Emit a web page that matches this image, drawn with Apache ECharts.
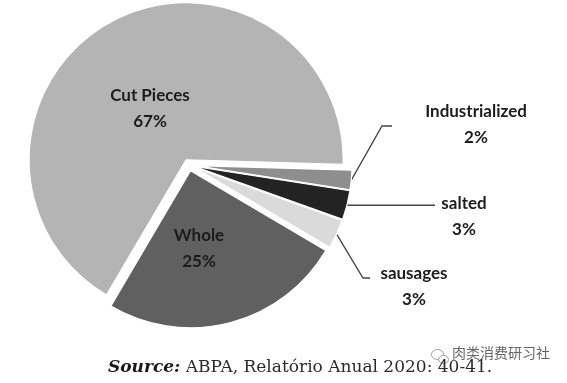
<!DOCTYPE html>
<html>
<head>
<meta charset="utf-8">
<script src="https://cdn.jsdelivr.net/npm/echarts@6/dist/echarts.min.js"></script>
<style>
html,body{margin:0;padding:0;background:#fff;}
#chart{width:567px;height:383px;}
</style>
</head>
<body>
<div id="chart"></div>
<script>
// ---- data ----
const categories = ['Cut Pieces', 'Industrialized', 'salted', 'sausages', 'Whole'];
const shares = [67, 2, 3, 3, 25];
const sliceColors = ['#b4b4b4', '#8e8e8e', '#232323', '#dadada', '#606060'];
const sourceLabel = 'Source:';
const sourceText = ' ABPA, Relatório Anual 2020: 40-41.';
const watermarkText = '肉类消费研习社';

// ---- layout ----
const baseCenter = [189, 165];
const pieRadius = 157;
const explode = 6;
const startAngle = 239.5;
// label anchors (block centres) and leader-line points (null y = keep start y)
const labelSpots = [
  { x: 150, y: 109 },
  { x: 476, y: 125, line: [[382, 126], [392, 126]] },
  { x: 464, y: 217, line: [[435, null]] },
  { x: 414, y: 287, line: [[363, 278], [370, 278]] },
  { x: 199, y: 249 }
];

const total = shares.reduce((a, b) => a + b, 0);
let cum = 0;
const mids = shares.map(v => {
  const m = startAngle - (cum + v / 2) / total * 360;
  cum += v;
  return m;
});

const series = categories.map((name, i) => {
  const rad = mids[i] * Math.PI / 180;
  const c = [baseCenter[0] + explode * Math.cos(rad), baseCenter[1] - explode * Math.sin(rad)];
  const spot = labelSpots[i];
  const outside = !!spot.line;
  return {
    type: 'pie',
    center: c,
    radius: pieRadius,
    startAngle: startAngle,
    clockwise: true,
    avoidLabelOverlap: false,
    silent: true,
    animation: false,
    emphasis: { disabled: true },
    label: { show: false },
    labelLine: { show: false },
    data: categories.map((n, j) => {
      if (j !== i) {
        return { name: n, value: shares[j], itemStyle: { color: 'rgba(0,0,0,0)', borderWidth: 0 }, label: { show: false }, labelLine: { show: false } };
      }
      return {
        name: n,
        value: shares[j],
        itemStyle: { color: sliceColors[j], borderColor: '#ffffff', borderWidth: 1.2 },
        label: {
          show: true,
          position: outside ? 'outside' : 'inside',
          formatter: '{b}\n{c}%',
          fontFamily: 'Lato',
          fontWeight: 'bold',
          fontSize: 17,
          lineHeight: 26,
          color: '#1c1c1c',
          align: 'center'
        },
        labelLine: outside ? { show: true, length: 10, length2: 10, lineStyle: { color: '#444', width: 1.3 } } : { show: false }
      };
    }),
    labelLayout: function (params) {
      if (params.dataIndex !== i) return {};
      const res = { x: spot.x, y: spot.y, align: 'center', verticalAlign: 'middle' };
      if (outside) {
        let p0;
        if (params.labelLinePoints && params.labelLinePoints[0]) {
          p0 = params.labelLinePoints[0];
        } else {
          p0 = [c[0] + pieRadius * Math.cos(rad), c[1] - pieRadius * Math.sin(rad)];
        }
        res.labelLinePoints = [p0].concat(spot.line.map(p => [p[0], p[1] == null ? p0[1] : p[1]]));
      }
      return res;
    }
  };
});

const chart = echarts.init(document.getElementById('chart'), null, { renderer: 'canvas' });
chart.setOption({
  backgroundColor: '#ffffff',
  animation: false,
  series: series,
  graphic: [
    {
      type: 'text',
      left: 452,
      top: 346,
      style: {
        text: watermarkText,
        fontFamily: 'Noto Sans CJK SC',
        fontSize: 14,
        fill: '#666666'
      }
    },
    {
      type: 'group',
      left: 429,
      top: 347,
      children: [
        { type: 'ellipse', shape: { cx: 6, cy: 6, rx: 6, ry: 5 }, style: { fill: 'none', stroke: '#999', lineWidth: 1 } },
        { type: 'ellipse', shape: { cx: 12, cy: 11, rx: 5, ry: 4 }, style: { fill: '#fff', stroke: '#999', lineWidth: 1 } }
      ]
    },
    {
      type: 'text',
      left: 108,
      top: 359,
      style: {
        text: '{b|' + sourceLabel + '}' + sourceText,
        fontFamily: 'DejaVu Serif',
        fontSize: 17,
        fill: '#2a2a2a',
        rich: {
          b: { fontFamily: 'DejaVu Serif', fontStyle: 'italic', fontWeight: 'bold', fontSize: 17, fill: '#1a1a1a' }
        }
      }
    }
  ]
});
</script>
</body>
</html>
